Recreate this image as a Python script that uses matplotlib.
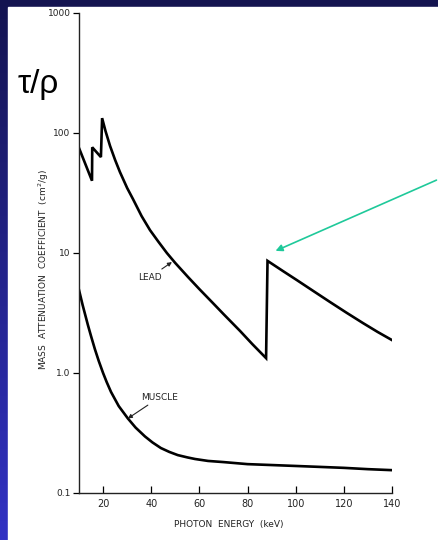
import numpy as np
import matplotlib
matplotlib.use('Agg')
import matplotlib.pyplot as plt

# photon energy (keV) and mass attenuation coefficient (cm^2/g)
lead_kev = [10, 15.4, 15.5, 19.1, 19.6, 21, 22.9, 25, 27, 30, 32.4, 36, 39.5, 43, 46.5,
            50, 55.3, 60, 65.6, 70, 76.9, 82, 87.7,
            88.3, 95, 100.4, 107, 114.2, 121, 127.9, 134, 140]
lead_mu = [75, 40, 76, 63, 133, 104, 78, 59.6, 47.3, 34.8, 28.2, 20.3, 15.5, 12.4, 10,
           8.25, 6.3, 5.0, 3.83, 3.1, 2.24, 1.74, 1.33,
           8.6, 7.01, 5.96, 4.87, 3.91, 3.19, 2.61, 2.2, 1.88]

muscle_kev = [10, 11.5, 13.7, 15, 16.6, 18.2, 20, 21.5, 23.3, 26.5, 30.3, 33.5, 37.4,
              40.5, 44, 47.5, 51, 55, 58.2, 63.6, 70, 80, 90, 100, 110, 120, 130, 140]
muscle_mu = [4.92, 3.69, 2.51, 2.03, 1.58, 1.26, 1.0, 0.84, 0.695, 0.53, 0.418, 0.351,
             0.296, 0.264, 0.237, 0.22, 0.207, 0.198, 0.192, 0.185, 0.181, 0.174, 0.171,
             0.168, 0.165, 0.162, 0.158, 0.155]

x_ticks = [20, 40, 60, 80, 100, 120, 140]
y_ticks = [0.1, 1, 10, 100, 1000]
y_tick_labels = ['0.1', '1.0', '10', '100', '1000']

W, H = 439, 540
fig = plt.figure(figsize=(W / 100, H / 100), dpi=100)

# slide background: dark blue gradient with a white panel
bg = fig.add_axes([0, 0, 1, 1], zorder=-10)
grad = np.linspace(0, 1, 256).reshape(-1, 1)
cmap = matplotlib.colors.LinearSegmentedColormap.from_list('slide', ['#141450', '#3232c4'])
bg.imshow(grad, aspect='auto', cmap=cmap, extent=[0, 1, 0, 1], origin='upper')
bg.add_patch(plt.Rectangle((8 / W, 0), 1 - 8 / W, 1 - 7 / H, color='white'))
bg.set_xlim(0, 1)
bg.set_ylim(0, 1)
bg.axis('off')

ax = fig.add_axes([79 / W, 47 / H, (392 - 79) / W, (493 - 13) / H])
ax.set_facecolor('none')
ax.plot(lead_kev, lead_mu, color='black', lw=1.9, solid_joinstyle='miter')
ax.plot(muscle_kev, muscle_mu, color='black', lw=1.9)

ax.set_yscale('log')
ax.set_xlim(10, 140)
ax.set_ylim(0.1, 1000)
ax.set_xticks(x_ticks)
ax.set_xticklabels([str(t) for t in x_ticks], fontsize=7, color='#222222')
ax.set_yticks(y_ticks)
ax.set_yticklabels(y_tick_labels, fontsize=6.5, color='#222222')
ax.minorticks_off()
ax.tick_params(axis='x', direction='in', length=5, width=0.9, pad=4)
ax.tick_params(axis='y', direction='out', length=4, width=0.9, pad=2)
for side in ['top', 'right']:
    ax.spines[side].set_visible(False)
for side in ['left', 'bottom']:
    ax.spines[side].set_linewidth(1.0)
    ax.spines[side].set_color('#222222')

ax.set_xlabel('PHOTON  ENERGY  (keV)', fontsize=6.5, color='#222222')
ax.xaxis.set_label_coords(0.479, -0.057)
ax.set_ylabel('MASS  ATTENUATION  COEFFICIENT  (cm$^2$/g)', fontsize=6.5, color='#222222')
ax.yaxis.set_label_coords(-0.089, 0.465)

ax.annotate('LEAD', xy=(48.6, 8.4), xytext=(39.5, 6.3), fontsize=6.5, ha='center',
            va='center', color='#222222',
            arrowprops=dict(arrowstyle='-|>', color='#222222', lw=0.8, mutation_scale=6,
                            shrinkA=1, shrinkB=0))
ax.annotate('MUSCLE', xy=(30.3, 0.418), xytext=(43.6, 0.63), fontsize=6.5, ha='center',
            va='center', color='#222222',
            arrowprops=dict(arrowstyle='-|>', color='#222222', lw=0.8, mutation_scale=6,
                            shrinkA=1, shrinkB=0))

# K-edge pointer and slide title
fig.add_artist(matplotlib.patches.FancyArrowPatch(
    (1.0, 1 - 179 / H), (273 / W, 1 - 252 / H), transform=fig.transFigure,
    arrowstyle='-|>', mutation_scale=10, color='#1fc99a', lw=1.2))
fig.text(38 / W, 1 - 84 / H, 'τ/ρ', fontsize=24, ha='center', va='center',
         family=['Liberation Sans', 'DejaVu Sans'], color='black')

fig.savefig('out.png', dpi=100)
